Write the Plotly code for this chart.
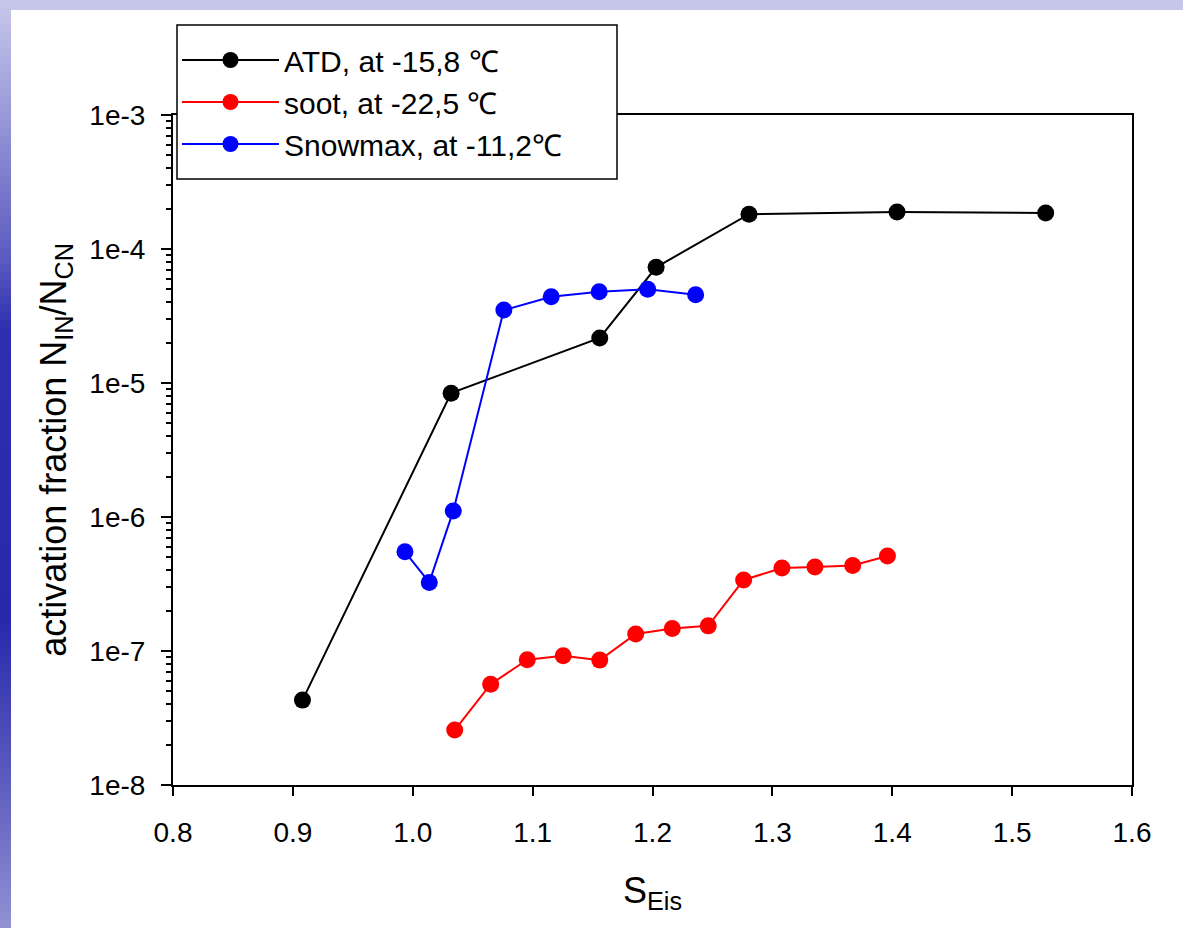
import plotly.graph_objects as go

# ---------------- data ----------------
atd_x = [0.908, 1.032, 1.156, 1.203, 1.2805, 1.404, 1.528]
atd_y = [4.3e-8, 8.4e-6, 2.17e-5, 7.3e-5, 1.82e-4, 1.89e-4, 1.86e-4]

soot_x = [1.035, 1.065, 1.0955, 1.1255, 1.156, 1.186, 1.2165, 1.2465, 1.276, 1.308, 1.3355, 1.367, 1.396]
soot_y = [2.57e-8, 5.65e-8, 8.6e-8, 9.2e-8, 8.55e-8, 1.34e-7, 1.47e-7, 1.54e-7, 3.39e-7, 4.16e-7, 4.24e-7, 4.35e-7, 5.12e-7]

snow_x = [0.9935, 1.0138, 1.0338, 1.076, 1.1155, 1.1555, 1.196, 1.236]
snow_y = [5.5e-7, 3.25e-7, 1.11e-6, 3.5e-5, 4.4e-5, 4.8e-5, 5.0e-5, 4.55e-5]

series_names = ["ATD, at -15,8 ℃", "soot, at -22,5 ℃", "Snowmax, at -11,2℃"]
series_colors = ["#000000", "#ff0000", "#0000ff"]

x_ticks = [0.8, 0.9, 1.0, 1.1, 1.2, 1.3, 1.4, 1.5, 1.6]
x_tick_labels = ["0.8", "0.9", "1.0", "1.1", "1.2", "1.3", "1.4", "1.5", "1.6"]
y_ticks = [1e-8, 1e-7, 1e-6, 1e-5, 1e-4, 1e-3]
y_tick_labels = ["1e-8", "1e-7", "1e-6", "1e-5", "1e-4", "1e-3"]
y_minor = [m * 10.0 ** e for e in range(-8, -3) for m in range(2, 10)]

# ---------------- figure ----------------
W, H = 1183, 928
L, R, T, B = 173, 1132, 115, 785

fig = go.Figure()
for i, (xs, ys) in enumerate([(atd_x, atd_y), (soot_x, soot_y), (snow_x, snow_y)]):
    fig.add_trace(go.Scatter(
        x=xs, y=ys, mode="lines+markers", name=series_names[i],
        legendgroup="g%d" % i,
        line=dict(color=series_colors[i], width=2),
        marker=dict(color=series_colors[i], size=17),
    ))


def px_x(p):
    return (p - L) / (R - L)


def px_y(p):
    return (B - p) / (B - T)


shapes = []
# top strip
shapes.append(dict(type="rect", xref="paper", yref="paper", layer="below",
                   x0=px_x(0), x1=px_x(W), y0=px_y(10), y1=px_y(0),
                   fillcolor="#c6c6ea", line=dict(width=0)))
# left strip gradient (bands)
stops = [(0, (200, 200, 236)), (120, (150, 150, 215)), (260, (90, 90, 192)),
         (330, (46, 46, 176)), (620, (40, 40, 172)), (760, (85, 85, 188)),
         (928, (145, 145, 212))]


def col_at(y):
    for (y0, c0), (y1, c1) in zip(stops[:-1], stops[1:]):
        if y0 <= y <= y1:
            t = (y - y0) / (y1 - y0)
            return "rgb(%d,%d,%d)" % tuple(round(a + (b - a) * t) for a, b in zip(c0, c1))
    return "rgb(%d,%d,%d)" % stops[-1][1]


band = 8
for y in range(0, H, band):
    shapes.append(dict(type="rect", xref="paper", yref="paper", layer="below",
                       x0=px_x(0), x1=px_x(11), y0=px_y(min(y + band, H)), y1=px_y(y),
                       fillcolor=col_at(y + band / 2), line=dict(width=0)))

# legend frame (white box covering the top axis line)
shapes.append(dict(type="rect", xref="paper", yref="paper", layer="above",
                   x0=px_x(177), x1=px_x(617), y0=px_y(179), y1=px_y(25),
                   fillcolor="white", line=dict(color="black", width=1.5)))

fig.update_layout(
    width=W, height=H,
    margin=dict(l=L, r=W - R, t=T, b=H - B, pad=0),
    paper_bgcolor="white", plot_bgcolor="white",
    font=dict(family="Arial, Liberation Sans, sans-serif", color="black"),
    shapes=shapes,
    showlegend=True,
    legend=dict(
        x=px_x(177), y=px_y(34), xanchor="left", yanchor="top",
        borderwidth=0, bgcolor="rgba(0,0,0,0)",
        font=dict(size=30), tracegroupgap=0, itemwidth=97,
        traceorder="normal",
    ),
    xaxis=dict(
        range=[0.8, 1.6], tickmode="array", tickvals=x_ticks, ticktext=x_tick_labels,
        ticks="outside", ticklen=9, tickwidth=1.5, tickcolor="black",
        showline=True, linecolor="black", linewidth=2, mirror=True,
        showgrid=False, zeroline=False,
        tickfont=dict(size=28), ticklabelstandoff=12,
        title=dict(text="S<sub>Eis</sub>", font=dict(size=36), standoff=31),
    ),
    yaxis=dict(
        type="log", range=[-8, -3], tickmode="array", tickvals=y_ticks, ticktext=y_tick_labels,
        ticks="outside", ticklen=10, tickwidth=1.5, tickcolor="black",
        showline=True, linecolor="black", linewidth=2, mirror=True,
        showgrid=False, zeroline=False,
        tickfont=dict(size=28), ticklabelstandoff=10,
        minor=dict(tickmode="array", tickvals=y_minor, ticks="outside", ticklen=5,
                   tickwidth=1.5, tickcolor="black", showgrid=False),
        title=dict(text="activation fraction N<sub>IN</sub>/N<sub>CN</sub>",
                   font=dict(size=36), standoff=12),
    ),
)

fig.write_html("out.html")
